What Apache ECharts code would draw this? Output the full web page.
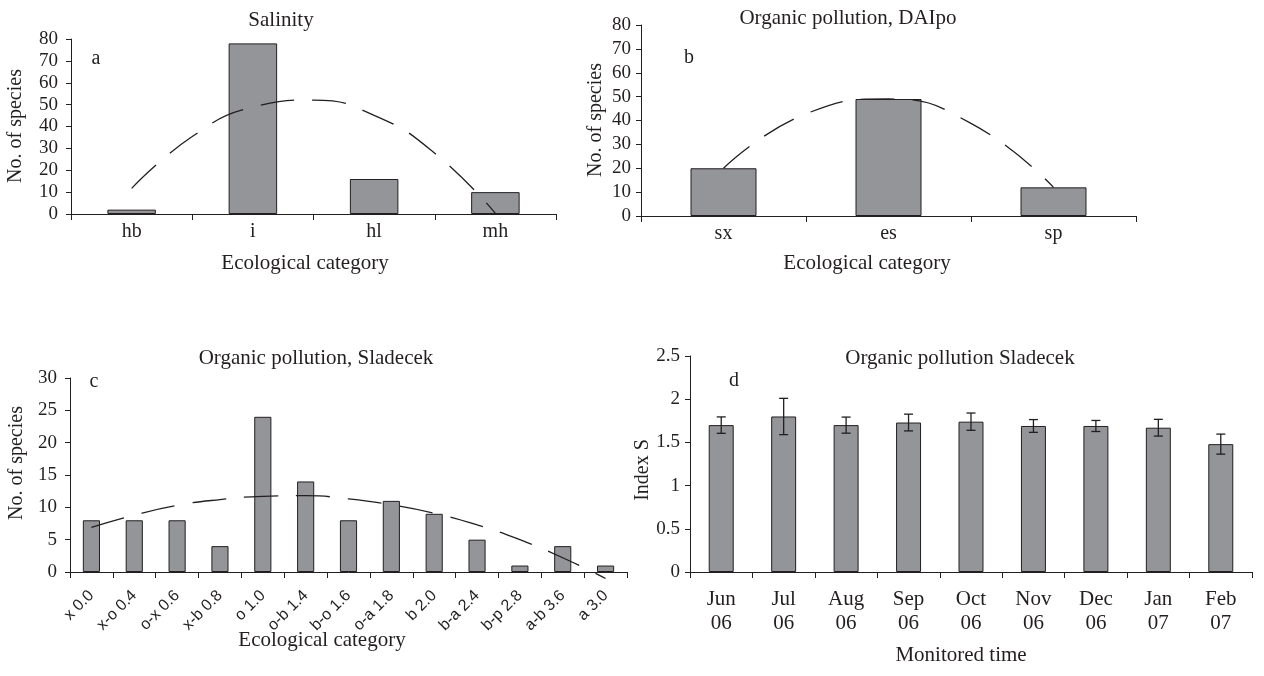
<!DOCTYPE html>
<html><head><meta charset="utf-8">
<script src="https://cdn.jsdelivr.net/npm/echarts@6/dist/echarts.min.js"></script>
<style>html,body{margin:0;padding:0;background:#fff}#c{width:1264px;height:676px}</style>
</head><body><div id="c"></div>
<script>
// ---- data ----
const salCats = ['hb', 'i', 'hl', 'mh'];
const salVals = [2, 78, 16, 10];
const salTrend = [[1, 11.7], [1.5, 35.4], [2, 48.9], [2.5, 52.1], [3, 45.1], [3.5, 27.8], [4, 0.3]];
const salTicks = [0, 10, 20, 30, 40, 50, 60, 70, 80];

const daiCats = ['sx', 'es', 'sp'];
const daiVals = [20, 49, 12];
const daiTrend = [[1, 20], [1.5, 42.8], [2, 49], [2.5, 38.8], [3, 12]];
const daiTicks = [0, 10, 20, 30, 40, 50, 60, 70, 80];

const sladCats = ['x 0.0', 'x-o 0.4', 'o-x 0.6', 'x-b 0.8', 'o 1.0', 'o-b 1.4', 'b-o 1.6', 'o-a 1.8', 'b 2.0', 'b-a 2.4', 'b-p 2.8', 'a-b 3.6', 'a 3.0'];
const sladVals = [8, 8, 8, 4, 24, 14, 8, 11, 9, 5, 1, 4, 1];
const sladTrend = [6.9, 8.8, 10.3, 11.2, 11.7, 11.8, 11.3, 10.4, 9.1, 7.3, 5.0, 2.2, -1.0];
const sladTicks = [0, 5, 10, 15, 20, 25, 30];

const monthCats = ['Jun\n06', 'Jul\n06', 'Aug\n06', 'Sep\n06', 'Oct\n06', 'Nov\n06', 'Dec\n06', 'Jan\n07', 'Feb\n07'];
const indexVals = [1.70, 1.80, 1.70, 1.73, 1.74, 1.69, 1.69, 1.67, 1.48];
const indexErr = [0.095, 0.21, 0.093, 0.097, 0.10, 0.074, 0.064, 0.097, 0.116];
const indexTicks = [0, 0.5, 1, 1.5, 2, 2.5];

// ---- style ----
const INK = '#231f20';
const BAR = '#939598';
const SERIF = '"Liberation Serif", "DejaVu Serif", serif';
const SANS = '"Liberation Sans", Arial, sans-serif';
const DASH = [34, 18];

function yAxis(gi, ticks, margin) {
  return {
    type: 'value', gridIndex: gi,
    min: ticks[0], max: ticks[ticks.length - 1], interval: ticks[1] - ticks[0],
    splitLine: { show: false },
    axisLine: { show: true, lineStyle: { color: INK, width: 1 } },
    axisTick: { show: true, length: 5, lineStyle: { color: INK } },
    axisLabel: { color: INK, fontFamily: SERIF, fontSize: 19, margin: margin }
  };
}
function xCat(gi, cats, extra) {
  return Object.assign({
    type: 'category', gridIndex: gi, data: cats,
    axisLine: { show: true, lineStyle: { color: INK, width: 1 } },
    axisTick: { show: true, length: 6, lineStyle: { color: INK } },
    axisLabel: { color: INK, fontFamily: SERIF, fontSize: 20, margin: 8 }
  }, extra || {});
}
function bars(xi, yi, vals) {
  return {
    type: 'bar', xAxisIndex: xi, yAxisIndex: yi, data: vals, barWidth: '40%',
    itemStyle: { color: BAR, borderColor: INK, borderWidth: 1 }, silent: true
  };
}
function trend(xi, yi, data) {
  return {
    type: 'line', xAxisIndex: xi, yAxisIndex: yi, data: data, smooth: true,
    symbol: 'none', clip: false, z: 5,
    lineStyle: { color: INK, width: 1.3, type: DASH }
  };
}
function txt(t, x, y, size, rot, fam) {
  return {
    type: 'text', x: x, y: y, rotation: rot || 0, silent: true,
    style: { text: t, fill: INK, font: (size) + 'px ' + (fam || SERIF), textAlign: 'center', textVerticalAlign: 'middle' }
  };
}

const chart = echarts.init(document.getElementById('c'), null, { renderer: 'canvas' });
chart.setOption({
  backgroundColor: '#fff',
  animation: false,
  grid: [
    { left: 71, top: 39, width: 485, height: 175 },
    { left: 641, top: 25, width: 495, height: 191 },
    { left: 70, top: 378, width: 557, height: 194 },
    { left: 690, top: 356, width: 562, height: 216 }
  ],
  xAxis: [
    xCat(0, salCats),
    xCat(1, daiCats),
    xCat(2, sladCats, { axisLabel: { color: INK, fontFamily: SANS, fontSize: 16, rotate: 45, margin: 21, interval: 0 } }),
    xCat(3, monthCats, { axisLabel: { color: INK, fontFamily: SERIF, fontSize: 21, lineHeight: 24, margin: 15, interval: 0 } }),
    { type: 'value', gridIndex: 0, min: 0.5, max: 4.5, show: false },
    { type: 'value', gridIndex: 1, min: 0.5, max: 3.5, show: false }
  ],
  yAxis: [
    yAxis(0, salTicks, 13),
    yAxis(1, daiTicks, 10),
    yAxis(2, sladTicks, 13),
    yAxis(3, indexTicks, 10)
  ],
  series: [
    bars(0, 0, salVals),
    trend(4, 0, salTrend),
    bars(1, 1, daiVals),
    trend(5, 1, daiTrend),
    bars(2, 2, sladVals),
    trend(2, 2, sladTrend),
    bars(3, 3, indexVals),
    {
      type: 'custom', xAxisIndex: 3, yAxisIndex: 3, z: 6, silent: true,
      data: indexVals.map((v, i) => [i, v - indexErr[i], v + indexErr[i]]),
      encode: { x: 0, y: [1, 2] },
      renderItem: function (params, api) {
        const i = api.value(0);
        const top = api.coord([i, api.value(2)]);
        const bot = api.coord([i, api.value(1)]);
        const hw = 4.5;
        const st = { stroke: INK, lineWidth: 1.3 };
        return {
          type: 'group', children: [
            { type: 'line', shape: { x1: top[0], y1: top[1], x2: bot[0], y2: bot[1] }, style: st },
            { type: 'line', shape: { x1: top[0] - hw, y1: top[1], x2: top[0] + hw, y2: top[1] }, style: st },
            { type: 'line', shape: { x1: bot[0] - hw, y1: bot[1], x2: bot[0] + hw, y2: bot[1] }, style: st }
          ]
        };
      }
    }
  ],
  graphic: [
    txt('Salinity', 281, 20, 21),
    txt('Organic pollution, DAIpo', 848, 18, 21),
    txt('Organic pollution, Sladecek', 316, 358, 21),
    txt('Organic pollution Sladecek', 960, 358, 21),
    txt('a', 96, 59, 20),
    txt('b', 689, 58, 20),
    txt('c', 94, 382, 20),
    txt('d', 734, 381, 20),
    txt('No. of species', 16, 126, 20, Math.PI / 2),
    txt('No. of species', 596, 120, 20, Math.PI / 2),
    txt('No. of species', 17, 463, 20, Math.PI / 2),
    txt('Index S', 643, 470, 20, Math.PI / 2),
    txt('Ecological category', 305, 263, 21),
    txt('Ecological category', 867, 263, 21),
    txt('Ecological category', 322, 640, 21),
    txt('Monitored time', 961, 655, 21)
  ]
});
</script>
</body></html>
